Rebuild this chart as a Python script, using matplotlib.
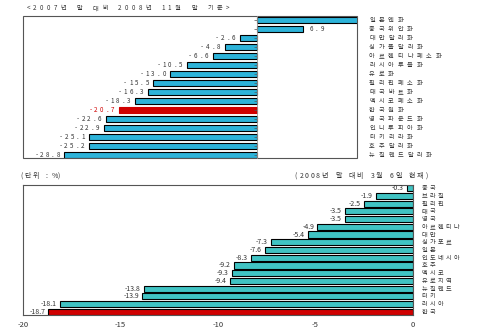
#!/usr/bin/env python3

import matplotlib
matplotlib.use("Agg")
import matplotlib.pyplot as plt
from matplotlib.patches import Rectangle
from matplotlib.transforms import offset_copy

plt.rcParams["font.family"] = ["Noto Sans CJK KR", "DejaVu Sans"]

TOP_TITLE = "<2007년 말 대비 2008년 11월 말 기준>"
TOP_NAMES = [
    "일본엔화", "중국위안화", "대만달러화", "싱가폴달러화", "아르헨티나페소화",
    "러시아루블화", "유로화", "필리핀페소화", "태국바트화", "멕시코페소화",
    "한국원화", "영국파운드화", "인니루피아화", "터키리라화", "호주달러화",
    "뉴질랜드달러화",
]
TOP_VALUES = [23.0, 6.9, -2.6, -4.8, -6.6, -10.5, -13.0, -15.5, -16.3, -18.3,
              -20.7, -22.6, -22.9, -25.1, -25.2, -28.8]
TOP_HIGHLIGHT = "한국원화"

BOTTOM_UNIT = "(단위 : %)"
BOTTOM_TITLE = "(2008년 말 대비 3월 6일 현재)"
BOTTOM_NAMES = [
    "중국", "브라질", "필리핀", "태국", "영국", "아르헨티나", "대만", "싱가포르",
    "일본", "인도네시아", "호주", "멕시코", "유로지역", "뉴질랜드", "터키",
    "러시아", "한국",
]
BOTTOM_VALUES = [-0.3, -1.9, -2.5, -3.5, -3.5, -4.9, -5.4, -7.3, -7.6, -8.3,
                 -9.2, -9.3, -9.4, -13.8, -13.9, -18.1, -18.7]
BOTTOM_HIGHLIGHT = "한국"
BOTTOM_TICKS = [-20, -15, -10, -5, 0]

TOP_COLOR = "#2db3d9"
BOTTOM_COLOR = "#40c3c3"
RED = "#d00000"
GRAY = "#555555"
TEXT = "#333333"

fig = plt.figure(figsize=(4.8, 3.34), dpi=100)


def spaced_text(x, y, text, transform, narrow, wide, ha="left", **kw):
    # draw text one glyph at a time, the way the old chart spreads its letters
    pitches = [wide if ord(ch) > 0x1000 else narrow for ch in text]
    total = sum(pitches)
    start = 0 if ha == "left" else -total
    offset = start
    for ch, p in zip(text, pitches):
        if ch != " ":
            tr = offset_copy(transform, fig=fig, x=offset + p / 2, y=0,
                             units="dots")
            fig.text(x, y, ch, transform=tr, ha="center", va="center", **kw)
        offset += p


# top chart
ax1 = fig.add_axes([0.048, 0.527, 0.696, 0.425])
pos = list(range(len(TOP_NAMES)))
colors = [RED if n == TOP_HIGHLIGHT else TOP_COLOR for n in TOP_NAMES]
edges = [RED if n == TOP_HIGHLIGHT else "black" for n in TOP_NAMES]
ax1.barh(pos, TOP_VALUES, height=0.6, color=colors, edgecolor=edges, linewidth=0.8)
ax1.set_xlim(-35, 15)
ax1.set_ylim(15.35, -0.45)
ax1.set_xticks([])
ax1.set_yticks(pos)
ax1.set_yticklabels([])
ax1.tick_params(axis="y", length=2, width=0.5, color=GRAY, direction="out")
for side in ["top", "right", "bottom"]:
    ax1.spines[side].set_visible(False)
ax1.spines["left"].set_position(("data", 0))
ax1.spines["left"].set_color("#999999")
ax1.spines["left"].set_linewidth(0.6)
ax1.add_patch(Rectangle((0, 0), 1, 1, transform=ax1.transAxes, fill=False,
                        edgecolor=GRAY, linewidth=0.8, clip_on=False))
for y, v, n in zip(pos, TOP_VALUES, TOP_NAMES):
    spaced_text(1.03, y, n, ax1.get_yaxis_transform(), 5, 9.5,
                fontsize=4.5, color=TEXT)
    if v > 15:
        continue
    c = RED if n == TOP_HIGHLIGHT else TEXT
    if v < 0:
        spaced_text(v - 0.5, y, f"{v:.1f}", ax1.transData, 5.5, 5.5,
                    ha="right", fontsize=4.5, color=c)
    else:
        spaced_text(v + 0.8, y, f"{v:.1f}", ax1.transData, 5.5, 5.5,
                    fontsize=4.5, color=c)
spaced_text(0.052, 0.975, TOP_TITLE, fig.transFigure, 6.7, 9.5,
            fontsize=4.5, color=TEXT)

# bottom chart
ax2 = fig.add_axes([0.048, 0.057, 0.812, 0.389])
pos2 = list(range(len(BOTTOM_NAMES)))
colors2 = [RED if n == BOTTOM_HIGHLIGHT else BOTTOM_COLOR for n in BOTTOM_NAMES]
ax2.barh(pos2, BOTTOM_VALUES, height=0.8, color=colors2, edgecolor="black",
         linewidth=0.8)
ax2.set_xlim(-20, 0)
ax2.set_ylim(16.4, -0.4)
ax2.set_xticks(BOTTOM_TICKS)
ax2.set_xticklabels([str(t) for t in BOTTOM_TICKS])
ax2.tick_params(axis="x", length=0, labelsize=5.5, colors=TEXT, pad=4)
ax2.set_yticks([])
for side in ax2.spines.values():
    side.set_color(GRAY)
    side.set_linewidth(0.8)
for y, v, n in zip(pos2, BOTTOM_VALUES, BOTTOM_NAMES):
    ax2.text(v - 0.15, y, f"{v:.1f}", ha="right", va="center",
             fontsize=5, color=TEXT)
    spaced_text(1.02, y, n, ax2.get_yaxis_transform(), 5, 8,
                fontsize=4.5, color=TEXT)
spaced_text(0.040, 0.472, BOTTOM_UNIT, fig.transFigure, 4.2, 8.5,
            fontsize=5, color=TEXT)
spaced_text(0.61, 0.472, BOTTOM_TITLE, fig.transFigure, 5.6, 8,
            fontsize=5, color=TEXT)

fig.savefig("out.png", dpi=100)
